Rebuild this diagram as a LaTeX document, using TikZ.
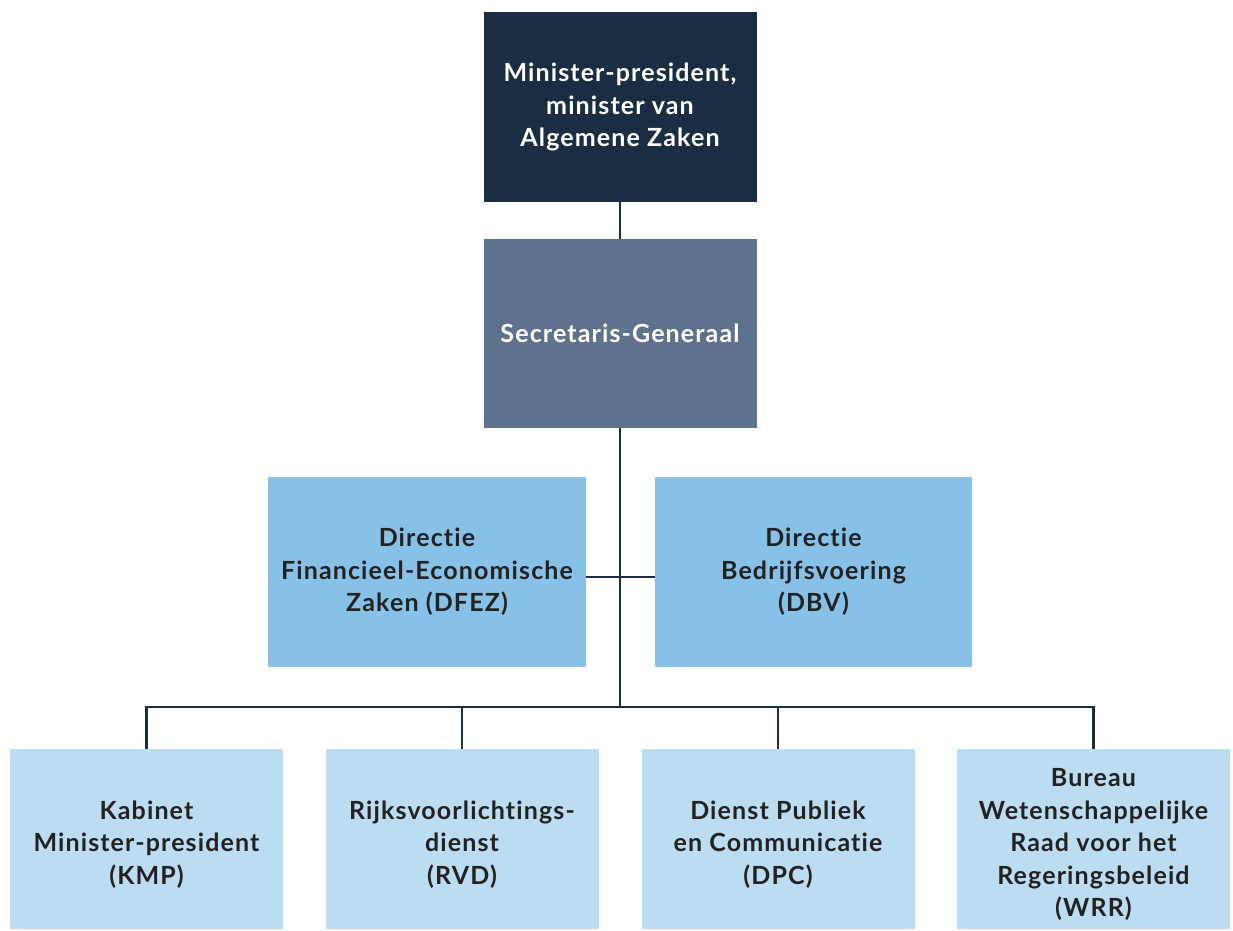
\documentclass[tikz,border=0pt]{standalone}
\usepackage{fontspec}
\setmainfont{Lato}[Ligatures=NoCommon, LetterSpace=4.5]
\definecolor{navy}{HTML}{1B2D42}
\definecolor{slate}{HTML}{5E718D}
\definecolor{midblue}{HTML}{87C1E7}
\definecolor{lightblue}{HTML}{BBDCF1}
\definecolor{txt}{HTML}{222222}
\newcommand{\lowtext}[1]{\raisebox{-6pt}[\height][\depth]{\begin{tabular}{@{}c@{}}#1\end{tabular}}}
\begin{document}
\begin{tikzpicture}[x=1pt,y=-1pt,
  box/.style={rectangle, inner sep=0pt, align=center, font=\fontsize{25}{32.5}\selectfont\bfseries, text=txt},
  topbox/.style={box, fill=navy, text=white, minimum width=273pt, minimum height=190pt},
  sgbox/.style={box, fill=slate, text=white, minimum width=273pt, minimum height=189pt},
  dirbox/.style={box, fill=midblue, minimum width=318pt, minimum height=190pt},
  unitbox/.style={rectangle, inner sep=0pt, font=\fontsize{25}{32.5}\selectfont\bfseries, text=txt, fill=lightblue, minimum width=273pt, minimum height=180pt},
  conn/.style={draw=navy, line width=2.6pt}]
\useasboundingbox (0,0) rectangle (1233,930);
\fill[white] (0,0) rectangle (1233,930);
\node[topbox] (mp) at (620,107) {Minister-president,\\minister van\\Algemene Zaken};
\node[sgbox] (sg) at (620,333.5) {Secretaris-Generaal};
\node[dirbox] (dfez) at (427,572) {Directie\\Financieel-Economische\\Zaken (DFEZ)};
\node[dirbox, minimum width=317pt] (dbv) at (813.5,572) {Directie\\Bedrijfsvoering\\(DBV)};
\node[unitbox] (kmp) at (146.5,839) {\lowtext{Kabinet\\Minister-president\\(KMP)}};
\node[unitbox] (rvd) at (462,839) {\lowtext{Rijksvoorlichtings-\\dienst\\(RVD)}};
\node[unitbox] (dpc) at (778,839) {\lowtext{Dienst Publiek\\en Communicatie\\(DPC)}};
\node[unitbox] (wrr) at (1093.5,839) {\lowtext{Bureau\\Wetenschappelijke\\Raad voor het\\Regeringsbeleid\\(WRR)}};
\coordinate (bus) at (620,707);
\draw[conn] (mp.south) -- (sg.north);
\draw[conn] (sg.south) -- (bus);
\draw[conn] ([yshift=-5pt]dfez.east) -- ([yshift=-5pt]dbv.west);
\draw[conn] (kmp.north) |- (bus) -| (wrr.north);
\draw[conn] (rvd.north) -- (rvd.north |- bus);
\draw[conn] (dpc.north) -- (dpc.north |- bus);
\end{tikzpicture}
\end{document}
